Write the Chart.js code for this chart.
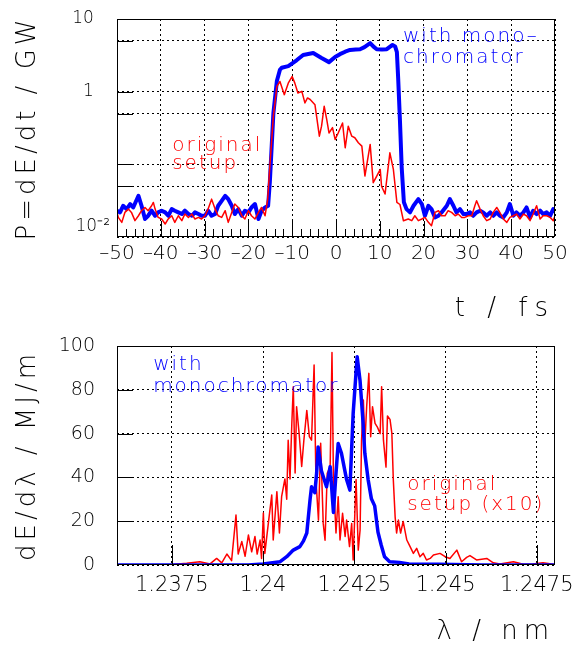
<!DOCTYPE html>
<html>
<head>
<meta charset="utf-8">
<script src="https://cdn.jsdelivr.net/npm/chart.js@4/dist/chart.umd.min.js"></script>
<style>
  body { margin: 0; background: #fff; width: 575px; height: 646px; overflow: hidden; }
  canvas { position: absolute; left: 0; }
</style>
</head>
<body>
<canvas id="power" width="575" height="323" style="top:0"></canvas>
<canvas id="spectrum" width="575" height="323" style="top:323px"></canvas>
<script>
// ---- top panel: power vs time (log y) ----
const tMono = [-50.0,-49.3,-48.6,-47.8,-47.0,-46.3,-45.1,-44.4,-43.6,-42.9,-42.1,-41.3,-40.6,-39.8,-39.0,-38.3,-37.5,-36.8,-36.0,-35.2,-34.5,-33.7,-32.9,-32.2,-31.4,-30.7,-29.9,-29.2,-28.4,-27.6,-26.9,-26.1,-25.3,-24.6,-23.8,-23.1,-22.3,-21.5,-20.8,-20.0,-19.3,-18.5,-17.7,-17.0,-16.2,-15.5,
  -15.1,-14.3,-13.5,-12.8,-12.4,-10.9,-9.0,-7.5,-5.2,-3.3,-1.6,-0.2,0.9,2.1,3.2,4.5,5.5,6.5,7.8,8.5,9.3,10.5,11.6,12.9,13.5,13.9,14.2,14.6,15.0,15.5,
  16.1,16.9,17.7,18.8,19.6,20.3,21.1,21.8,22.6,23.4,24.1,25.3,26.0,26.8,27.5,28.3,29.1,29.8,30.6,31.3,32.1,32.9,33.6,34.4,35.2,35.9,36.7,37.4,38.2,39.0,39.7,40.5,41.2,42.0,42.8,43.5,44.3,45.0,45.8,46.6,47.3,48.1,48.9,49.6,50.0];
const pMono = [0.0230,0.0218,0.0269,0.0242,0.0284,0.0255,0.0369,0.0269,0.0177,0.0196,0.0230,0.0196,0.0218,0.0230,0.0218,0.0196,0.0242,0.0230,0.0218,0.0207,0.0230,0.0207,0.0196,0.0218,0.0207,0.0196,0.0196,0.0230,0.0196,0.0207,0.0269,0.0315,0.0369,0.0332,0.0269,0.0207,0.0242,0.0196,0.0230,0.0218,0.0255,0.0284,0.0177,0.0230,0.0255,0.0269,
  0.058,0.5,1.4,2.0,2.13,2.25,2.7,3.2,3.4,2.9,2.55,3.0,3.28,3.55,3.75,3.8,3.84,4.1,4.65,4.2,3.84,3.8,3.84,4.4,4.2,3.5,1.5,0.4,0.09,0.03,
  0.0242,0.0218,0.0269,0.0332,0.0284,0.0196,0.0269,0.0242,0.0186,0.0196,0.0218,0.0269,0.0332,0.0269,0.0218,0.0242,0.0207,0.0207,0.0218,0.0196,0.0218,0.0230,0.0218,0.0196,0.0218,0.0196,0.0218,0.0196,0.0186,0.0218,0.0284,0.0196,0.0218,0.0196,0.0218,0.0255,0.0186,0.0230,0.0207,0.0230,0.0207,0.0218,0.0196,0.0242,0.0218];

const tOrig = [-50.0,-49.7,-48.9,-48.2,-47.4,-46.7,-45.9,-45.1,-44.4,-43.6,-42.9,-42.1,-41.7,-41.3,-40.6,-39.8,-39.0,-38.3,-37.5,-36.8,-36.0,-35.2,-34.5,-33.7,-32.9,-32.2,-31.4,-30.7,-29.9,-29.2,-28.4,-27.6,-26.9,-26.1,-25.3,-24.6,-23.8,-23.1,-22.3,-21.5,-20.8,-20.0,-19.3,-18.5,-17.7,-17.0,-16.2,
  -15.6,-15.1,-14.3,-13.5,-12.8,-11.8,-10.9,-10.0,-9.4,-8.7,-7.8,-7.1,-6.5,-5.9,-4.8,-3.8,-3.3,-2.7,-2.1,-1.6,-0.8,-0.2,0.5,1.5,2.1,2.8,3.6,4.3,5.1,5.9,6.6,7.8,8.5,9.3,10.1,10.4,11.2,12.3,13.1,13.9,14.6,15.4,
  16.5,17.3,18.0,18.8,19.6,20.3,21.1,21.8,22.6,23.4,24.1,24.9,25.6,26.4,27.2,27.9,28.7,29.4,30.2,31.0,31.7,32.1,32.9,33.6,34.4,35.2,35.9,36.7,37.4,38.2,39.0,39.7,40.5,41.2,42.0,42.8,43.5,44.3,45.0,45.8,46.6,47.3,48.1,48.9,49.6,50.0];
const pOrig = [0.0218,0.0186,0.0159,0.0218,0.0242,0.0218,0.0168,0.0196,0.0230,0.0255,0.0230,0.0269,0.0299,0.0242,0.0186,0.0177,0.0151,0.0177,0.0196,0.0159,0.0196,0.0168,0.0207,0.0186,0.0207,0.0177,0.0186,0.0177,0.0196,0.0242,0.0332,0.0242,0.0196,0.0186,0.0230,0.0159,0.0218,0.0284,0.0255,0.0196,0.0177,0.0230,0.0196,0.0177,0.0218,0.0255,0.0196,
  0.033,0.095,0.46,1.18,1.38,0.91,1.31,1.62,1.31,0.96,1.01,0.70,0.82,0.78,0.66,0.244,0.335,0.63,0.41,0.27,0.32,0.22,0.27,0.37,0.169,0.335,0.244,0.232,0.198,0.178,0.069,0.188,0.056,0.069,0.085,0.050,0.039,0.144,0.085,0.030,0.028,0.0167,
  0.0177,0.0168,0.0196,0.0168,0.0177,0.0186,0.0159,0.0143,0.0218,0.0230,0.0196,0.0196,0.0230,0.0218,0.0196,0.0207,0.0186,0.0186,0.0196,0.0196,0.0269,0.0315,0.0242,0.0196,0.0168,0.0177,0.0218,0.0255,0.0218,0.0177,0.0159,0.0186,0.0196,0.0207,0.0177,0.0207,0.0196,0.0168,0.0207,0.0269,0.0177,0.0196,0.0196,0.0186,0.0168,0.0196];

const tTicks = [-50, -40, -30, -20, -10, 0, 10, 20, 30, 40, 50];
const pTicks = [0.01, 0.05, 0.1, 0.5, 1, 5, 10];
const pLabelValues = [10, 1, 0.01];
const pLabelTexts = ['10\u2007 ', '1\u2007 ', ['10\u207b\u00b2', '']];

// ---- bottom panel: spectrum ----
const lamMono = [1.23600,1.23960,1.24000,1.24047,1.24065,1.24083,1.24101,1.24111,1.24120,1.24129,1.24133,1.24142,1.24147,1.24151,1.24160,1.24174,1.24184,1.24193,1.24200,1.24206,1.24215,1.24229,1.24238,1.24247,1.24258,1.24266,1.24273,1.24279,1.24288,1.24297,1.24306,1.24315,1.24324,1.24333,1.24347,1.24374,1.24400,1.24480,1.24600,1.24800];
const specMono = [0,0,0.5,1.5,3.8,6.8,8.4,11,14.6,30,35.7,33,42,53.9,43,35.7,44.9,24,42,55.5,51,39,34.2,69.2,95.1,84,67.7,51,39,30.2,27,15,9,3.8,1.5,1.2,0.5,0.3,0,0];

const lamOrig = [1.23600,1.23736,1.23791,1.23827,1.23855,1.23873,1.23887,1.23901,1.23914,1.23926,
  1.23932,1.23942,1.23951,1.23960,1.23969,1.23978,1.23984,1.23992,1.23996,1.24001,
  1.24005,1.24015,1.24024,1.24028,1.24038,1.24045,1.24051,1.24060,1.24065,1.24069,
  1.24074,1.24079,1.24083,1.24088,1.24092,1.24099,1.24106,1.24112,1.24120,1.24127,
  1.24133,1.24140,1.24145,1.24152,1.24158,1.24165,1.24170,1.24176,1.24184,1.24189,
  1.24193,1.24200,1.24206,1.24211,1.24218,1.24225,1.24229,1.24237,1.24243,1.24247,
  1.24255,1.24261,1.24266,1.24270,1.24275,1.24279,1.24284,1.24290,1.24295,1.24300,
  1.24307,1.24313,1.24321,1.24325,1.24330,1.24337,1.24341,1.24348,1.24353,1.24357,
  1.24362,1.24366,1.24371,1.24377,1.24384,1.24394,1.24403,1.24412,1.24421,1.24430,
  1.24439,1.24448,1.24458,1.24467,1.24485,1.24499,1.24512,1.24531,1.24544,1.24558,
  1.24567,1.24585,1.24613,1.24631,1.24649,1.24686,1.24713,1.24740,1.24767,1.24795,1.24800];
const specOrig = [0,0,0.8,1.5,0.5,3,1,5,2,22.8,
  5,10.7,4,13.7,6,13,5,11.4,3,23.7,
  5.3,19.6,32,11.4,33.5,14.6,31.2,39.3,30,57,
  39.3,64.7,81.4,42,72.3,60,45,57,70.6,58.6,
  57,91.3,39,20.5,55.6,19,11.3,41.9,44.9,97,
  39,14.6,31.2,11.4,23.6,13,20.5,8.4,19,2.3,
  39,6.8,16,57,75.3,55.5,72.3,87.5,58.6,72.3,
  64.7,63.1,60,81.4,57,44.7,68,66.5,60.2,39,
  22,14.6,20.5,14.6,19.9,11.4,8.4,5.3,7.6,3.8,
  5.3,2.3,3,4.6,5.3,3.8,3,6.8,1.5,3.5,
  4.3,2.3,3,1,0.5,1.5,0.3,0.5,1.0,0.3,0];

const lamTicks = [1.2375, 1.24, 1.2425, 1.245, 1.2475];
const lamTickLabels = ['1.2375', '1.24', '1.2425', '1.245', '1.2475'];
const specTicks = [0, 20, 40, 60, 80, 100];

const BLUE = '#0000ff';
const RED = '#ff0000';
const FONT = "'DejaVu Sans', sans-serif";
const WEIGHT = 200;
Chart.defaults.font.family = FONT;
Chart.defaults.font.weight = WEIGHT;
Chart.defaults.color = '#000';

function xy(xs, ys) {
  return xs.map((x, i) => ({ x: x, y: ys[i] }));
}

// keep label overhang from shrinking the plot area
function fixSize(w, h) {
  return s => {
    if (w) s.width = w;
    if (h) s.height = h;
    s.paddingLeft = s.paddingRight = s.paddingTop = s.paddingBottom = 0;
  };
}

// frame, inward tick marks, axis titles and text notes
const decorations = {
  id: 'decorations',
  afterDatasetsDraw(chart, args, o) {
    const { ctx, chartArea: a, scales: { x, y } } = chart;
    ctx.save();
    ctx.strokeStyle = '#000';
    ctx.lineWidth = 1;
    ctx.setLineDash([]);
    ctx.strokeRect(a.left + 0.5, a.top + 0.5, a.right - a.left - 1, a.bottom - a.top - 1);
    ctx.beginPath();
    o.xMarks.forEach(([v, len]) => {
      const px = Math.round(x.getPixelForValue(v)) + 0.5;
      ctx.moveTo(px, a.bottom);
      ctx.lineTo(px, a.bottom - len);
    });
    o.yMarks.forEach(([v, len]) => {
      const py = Math.round(y.getPixelForValue(v)) + 0.5;
      ctx.moveTo(a.left, py);
      ctx.lineTo(a.left + len, py);
    });
    ctx.stroke();

    ctx.textBaseline = 'alphabetic';
    ctx.font = WEIGHT + ' 20px ' + FONT;
    ctx.letterSpacing = '2px';
    ctx.textAlign = 'left';
    o.notes.forEach(n => {
      ctx.fillStyle = n.color;
      ctx.fillText(n.text, x.getPixelForValue(n.x), y.getPixelForValue(n.y));
    });

    ctx.fillStyle = '#000';
    ctx.font = WEIGHT + ' 26px ' + FONT;
    ctx.letterSpacing = o.xTitleSpacing;
    ctx.textAlign = 'right';
    ctx.textBaseline = 'middle';
    ctx.fillText(o.xTitle, a.right, chart.height - 14);

    ctx.letterSpacing = o.yTitleSpacing;
    ctx.translate(28, (a.top + a.bottom) / 2);
    ctx.rotate(-Math.PI / 2);
    ctx.textAlign = 'center';
    ctx.fillText(o.yTitle, 0, 0);
    ctx.restore();
  }
};

const gridOpts = { color: '#000', lineWidth: 1, drawTicks: false };
const borderOpts = { display: false, dash: [2, 3] };

// top chart
const tMinor = [];
for (let v = -48; v <= 48; v += 2) if (v % 10 !== 0) tMinor.push([v, 8]);

new Chart(document.getElementById('power'), {
  type: 'line',
  data: {
    datasets: [
      { data: xy(tOrig, pOrig), borderColor: RED, borderWidth: 1.5 },
      { data: xy(tMono, pMono), borderColor: BLUE, borderWidth: 4 }
    ]
  },
  options: {
    responsive: false,
    animation: false,
    events: [],
    elements: { point: { radius: 0 }, line: { tension: 0, borderJoinStyle: 'round' } },
    layout: { padding: { left: 0, right: 20, top: 19, bottom: 0 } },
    plugins: {
      legend: { display: false },
      tooltip: { enabled: false },
      decorations: {
        xMarks: tTicks.slice(1, -1).map(v => [v, 16]).concat(tMinor),
        yMarks: pTicks.slice(1, -1).map(v => [v, 16]),
        xTitle: 't / fs', xTitleSpacing: '7px',
        yTitle: 'P=dE/dt / GW', yTitleSpacing: '4px',
        notes: [
          { text: 'with mono\u2013', x: 15.3, y: 4.89, color: BLUE },
          { text: 'chromator', x: 15.3, y: 2.47, color: BLUE },
          { text: 'original', x: -37.4, y: 0.152, color: RED },
          { text: 'setup', x: -37.4, y: 0.0855, color: RED }
        ]
      }
    },
    scales: {
      x: {
        type: 'linear', min: -50, max: 50,
        afterBuildTicks: s => { s.ticks = tTicks.map(v => ({ value: v })); },
        afterFit: fixSize(0, 86),
        ticks: {
          autoSkip: false, maxRotation: 0, padding: 5, font: { size: 20 },
          callback: v => (v < 0 ? '\u2013' + (-v) : String(v))
        },
        grid: gridOpts, border: borderOpts
      },
      y: {
        type: 'logarithmic', min: 0.01, max: 10,
        afterBuildTicks: s => { s.ticks = pTicks.map(v => ({ value: v })); },
        afterFit: fixSize(117, 0),
        ticks: {
          autoSkip: false, padding: 7, font: { size: 17 },
          callback: v => {
            const i = pLabelValues.findIndex(p => Math.abs(p - v) < 1e-9);
            return i < 0 ? '' : pLabelTexts[i];
          }
        },
        grid: gridOpts, border: borderOpts
      }
    }
  },
  plugins: [decorations]
});

// bottom chart
new Chart(document.getElementById('spectrum'), {
  type: 'line',
  data: {
    datasets: [
      { data: xy(lamMono, specMono), borderColor: BLUE, borderWidth: 3.5 },
      { data: xy(lamOrig, specOrig), borderColor: RED, borderWidth: 1.5 }
    ]
  },
  options: {
    responsive: false,
    animation: false,
    events: [],
    elements: { point: { radius: 0 }, line: { tension: 0, borderJoinStyle: 'round' } },
    layout: { padding: { left: 0, right: 20, top: 23, bottom: 0 } },
    plugins: {
      legend: { display: false },
      tooltip: { enabled: false },
      decorations: {
        xMarks: lamTicks.map((v, i) => [v, i % 2 === 0 ? 20 : 12]),
        yMarks: specTicks.slice(1, -1).map(v => [v, 16]),
        xTitle: '\u03bb / nm', xTitleSpacing: '6px',
        yTitle: 'dE/d\u03bb / MJ/m', yTitleSpacing: '4px',
        notes: [
          { text: 'with', x: 1.23699, y: 89, color: BLUE },
          { text: 'monochromator', x: 1.23699, y: 79, color: BLUE },
          { text: 'original', x: 1.24395, y: 34.2, color: RED },
          { text: 'setup (x10)', x: 1.24395, y: 25, color: RED }
        ]
      }
    },
    scales: {
      x: {
        type: 'linear', min: 1.236, max: 1.248,
        afterBuildTicks: s => { s.ticks = lamTicks.map(v => ({ value: v })); },
        afterFit: fixSize(0, 81),
        ticks: {
          autoSkip: false, maxRotation: 0, padding: 8, font: { size: 21 },
          callback: (v, i) => lamTickLabels[i]
        },
        grid: gridOpts, border: borderOpts
      },
      y: {
        type: 'linear', min: 0, max: 100,
        afterBuildTicks: s => { s.ticks = specTicks.map(v => ({ value: v })); },
        afterFit: fixSize(117, 0),
        ticks: { autoSkip: false, padding: 22, font: { size: 19 } },
        grid: gridOpts, border: borderOpts
      }
    }
  },
  plugins: [decorations]
});
</script>
</body>
</html>
